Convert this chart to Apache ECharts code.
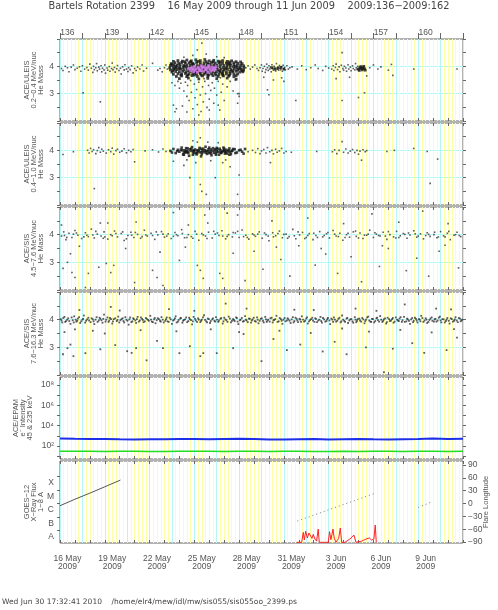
<!DOCTYPE html>
<html><head><meta charset="utf-8">
<script src="https://cdn.jsdelivr.net/npm/echarts@6/dist/echarts.min.js"></script>
<style>html,body{margin:0;padding:0;background:#fff}#c{width:498px;height:610px}</style>
</head><body><div id="c"></div>
<script>
// ---------- tick labels ----------
const topLabelDays = [136, 139, 142, 145, 148, 151, 154, 157, 160];
const topTickLabels = ['136', '139', '142', '145', '148', '151', '154', '157', '160'];
const dateLabels = ['16 May\n2009', '19 May\n2009', '22 May\n2009', '25 May\n2009', '28 May\n2009',
  '31 May\n2009', '3 Jun\n2009', '6 Jun\n2009', '9 Jun\n2009'];
const massLabelValues = [3, 4];
const massTickLabels = ['3', '4'];
const epamLabelExps = [2, 4, 6, 8];
const epamTickLabels = ['10\u00b2', '10\u2074', '10\u2076', '10\u2078'];
const goesLabelExps = [-8, -7, -6, -5, -4];
const goesClassLabels = ['A', 'B', 'C', 'M', 'X'];
const lonTickValues = [-90, -60, -30, 0, 30, 60, 90];
const lonTickLabels = ['\u221290', '\u221260', '\u221230', '0', '30', '60', '90'];

// ---------- data: [day of year, He mass] ----------
const uleisLowSparse = `136.1 3.92, 136.2 3.85, 136.35 4.0, 136.5 3.95, 136.6 3.8, 136.75 3.97, 136.9 4.05, 137.0 3.88,
137.15 3.93, 137.3 3.98, 137.4 3.82, 137.5 4.02, 137.55 3.03, 137.65 3.9, 137.8 3.96, 137.9 3.86, 138.0 4.08, 138.1 3.93,
138.2 3.78, 138.25 4.0, 138.3 3.88, 138.4 3.95, 138.45 4.1, 138.5 3.84, 138.6 3.97, 138.65 3.9, 138.7 2.7, 138.75 4.02,
138.8 3.8, 138.85 3.93, 138.95 3.87, 139.0 4.05, 139.05 3.75, 139.15 3.94, 139.2 3.86, 139.3 3.99, 139.35 3.82, 139.45 3.92,
139.5 4.12, 139.55 3.88, 139.65 3.96, 139.7 3.79, 139.8 3.91, 139.85 4.03, 139.95 3.85, 140.05 3.93, 140.1 3.72, 140.2 3.98,
140.3 3.87, 140.35 4.06, 140.45 3.9, 140.55 3.81, 140.6 3.95, 140.7 3.88, 140.8 4.02, 140.9 3.76, 141.0 3.92, 141.1 3.85,
141.2 3.97, 141.35 3.9, 141.5 4.05, 141.6 3.83, 141.8 3.93, 142.2 4.11, 142.55 3.86, 142.7 3.92, 142.85 3.8, 143.0 3.95,
143.1 4.05, 143.2 3.9,
143.5 3.4, 143.7 3.3, 143.9 3.45, 144.0 3.2, 144.1 3.38, 144.2 2.55, 144.3 3.1, 144.4 3.42, 144.5 2.9, 144.55 3.3,
144.65 2.75, 144.75 3.48, 144.8 3.05, 144.9 2.45, 145.0 3.35, 145.05 2.85, 145.15 3.15, 145.2 2.6, 145.3 3.42, 145.4 2.95,
145.45 2.35, 145.55 3.25, 145.6 2.7, 145.7 3.45, 145.75 3.0, 145.85 2.5, 145.95 3.3, 146.0 2.8, 146.1 3.12, 146.2 3.4,
146.3 2.65, 146.35 3.2, 146.5 2.95, 146.6 3.45, 146.7 2.4, 146.8 3.05, 146.9 3.35, 147.0 2.75, 147.2 3.25, 147.4 3.45,
147.6 3.1, 147.9 3.0, 148.0 2.9, 143.8 2.45, 144.45 3.6, 145.65 3.55, 146.75 3.58, 147.75 3.5, 143.6 2.58, 143.7 2.34,
144.5 2.33, 145.3 2.22, 146.0 2.4, 146.6 2.58, 147.9 2.65, 148.0 3.0,
145.5 4.85, 145.2 4.6, 144.9 4.4, 145.8 4.45, 146.5 4.35, 144.3 4.33, 147.0 4.32,
148.45 3.95, 148.6 4.02, 148.75 3.9, 148.9 3.97, 149.05 4.05, 149.2 3.92, 149.3 3.85,
149.4 3.95, 149.5 4.05, 149.55 3.82, 149.6 3.92, 149.7 4.0, 149.75 3.78, 149.8 3.88, 149.85 4.08, 149.9 3.95, 149.95 3.85,
150.0 4.02, 150.05 3.9, 150.1 3.97, 150.15 3.8, 150.2 4.06, 150.25 3.92, 150.3 3.86, 150.35 4.0, 150.4 3.94, 150.45 3.83,
150.5 4.1, 150.55 3.9, 150.6 3.97, 150.65 3.86, 150.7 4.03, 150.75 3.93, 150.8 3.88, 150.85 3.99, 150.9 3.82, 150.95 4.04,
151.0 3.91, 151.05 3.96, 151.1 3.87, 151.2 4.02, 151.3 3.9, 151.4 3.95, 149.9 3.14, 150.0 2.96, 150.3 3.5, 149.65 3.6,
150.85 3.58, 151.0 3.45,
151.55 3.98, 151.8 2.75, 151.9 3.9, 152.2 4.02, 152.5 3.88, 152.8 3.95, 153.1 4.05, 153.3 3.92, 153.6 3.85, 153.8 4.0, 154.0 3.94,
154.2 3.9, 154.3 4.02, 154.35 3.85, 154.45 3.96, 154.5 4.08, 154.6 3.88, 154.7 3.98, 154.75 3.8, 154.85 4.04, 154.9 4.5,
154.95 3.92, 155.0 3.86, 155.05 4.0, 155.15 3.94, 155.2 3.82, 155.3 4.06, 155.35 3.9, 155.45 3.97, 155.5 3.84, 155.6 4.02,
155.65 3.92, 155.75 3.87, 155.8 4.1, 155.85 3.95, 155.9 3.89, 155.95 4.0, 154.9 2.75, 156.0 2.86, 156.4 3.03, 155.4 3.6,
154.5 3.55, 156.55 3.65,
156.75 3.95, 157.0 4.05, 157.3 3.9, 157.5 3.98, 158.0 3.86, 158.2 4.07, 158.3 3.67, 159.7 3.9, 162.6 3.9`;

const uleisLowCore = `143.6 4.18, 143.9 4.21, 144.2 4.19, 144.5 4.23, 144.8 4.2, 145.1 4.24, 145.4 4.21, 145.7 4.25, 146.0 4.2,
146.3 4.22, 146.6 4.19, 146.9 4.21, 147.2 4.18, 147.5 4.2, 147.8 4.17, 148.1 4.16,
143.45 4.1, 143.7 4.13, 143.95 4.11, 144.15 4.14, 144.4 4.12, 144.65 4.13, 144.9 4.11, 145.15 4.14, 145.4 4.12, 145.65 4.13,
145.9 4.1, 146.15 4.14, 146.4 4.12, 146.65 4.13, 146.9 4.11, 147.15 4.12, 147.4 4.1, 147.65 4.13, 147.9 4.11, 148.2 4.1,
143.4 4.03, 143.62 4.05, 143.85 4.04, 144.05 4.06, 144.28 4.03, 144.5 4.05, 144.72 4.04, 144.95 4.06, 145.18 4.03, 145.4 4.05,
145.62 4.04, 145.85 4.06, 146.08 4.03, 146.3 4.05, 146.52 4.04, 146.75 4.06, 146.98 4.03, 147.2 4.05, 147.42 4.04, 147.65 4.06,
147.88 4.03, 148.1 4.05, 148.3 4.02,
143.35 3.95, 143.58 3.97, 143.8 3.96, 144.02 3.98, 144.25 3.95, 144.48 3.97, 144.7 3.96, 144.92 3.98, 145.15 3.95, 145.38 3.97,
145.6 3.96, 145.82 3.98, 146.05 3.95, 146.28 3.97, 146.5 3.96, 146.72 3.98, 146.95 3.95, 147.18 3.97, 147.4 3.96, 147.62 3.98,
147.85 3.95, 148.08 3.97, 148.32 3.95,
143.4 3.87, 143.62 3.89, 143.85 3.88, 144.08 3.9, 144.3 3.87, 144.52 3.89, 144.75 3.88, 144.98 3.9, 145.2 3.87, 145.42 3.89,
145.65 3.88, 145.88 3.9, 146.1 3.87, 146.32 3.89, 146.55 3.88, 146.78 3.9, 147.0 3.87, 147.22 3.89, 147.45 3.88, 147.68 3.9,
147.9 3.87, 148.12 3.89, 148.3 3.86,
143.5 3.79, 143.75 3.81, 144.0 3.8, 144.22 3.82, 144.45 3.79, 144.68 3.81, 144.9 3.8, 145.12 3.82, 145.35 3.79, 145.58 3.81,
145.8 3.8, 146.02 3.82, 146.25 3.79, 146.48 3.81, 146.7 3.8, 146.92 3.82, 147.15 3.79, 147.38 3.81, 147.6 3.8, 147.82 3.82,
148.05 3.79, 148.25 3.8,
143.6 3.71, 143.9 3.73, 144.15 3.72, 144.4 3.74, 144.65 3.71, 144.9 3.73, 145.15 3.72, 145.4 3.74, 145.65 3.71, 145.9 3.73,
146.15 3.72, 146.4 3.74, 146.65 3.71, 146.9 3.73, 147.15 3.72, 147.4 3.74, 147.65 3.71, 147.9 3.72,
143.8 3.63, 144.15 3.65, 144.5 3.64, 144.85 3.66, 145.2 3.63, 145.55 3.65, 145.9 3.64, 146.25 3.66, 146.6 3.63, 146.95 3.65,
147.3 3.64, 147.65 3.62, 144.0 3.55, 144.6 3.57, 145.3 3.54, 145.9 3.56, 146.5 3.55, 147.2 3.57, 147.8 3.53,
143.5 4.07, 143.75 4.0, 144.0 3.92, 144.35 4.0, 144.6 3.85, 144.85 4.08, 145.05 3.76, 145.3 4.0, 145.55 3.92, 145.75 3.76,
146.0 4.08, 146.2 3.92, 146.45 4.0, 146.7 3.84, 146.85 3.76, 147.1 3.92, 147.3 4.08, 147.55 3.84, 147.75 4.0, 148.0 3.92,
148.2 3.84, 143.55 3.84, 143.7 3.92, 144.1 3.68, 144.55 3.68, 145.0 3.68, 145.45 3.68, 145.95 3.68, 146.45 3.68, 146.9 3.68,
147.35 3.68, 147.8 3.66, 144.35 4.17, 144.75 4.17, 145.25 4.18, 145.8 4.17, 146.25 4.17, 146.75 4.17, 147.35 4.16,
150.2 3.95, 150.4 3.9, 150.6 3.93, 150.8 3.96, 151.0 3.9,
156.0 3.9, 156.1 3.95, 156.2 3.92, 156.3 3.95, 156.4 3.91, 156.05 3.85, 156.15 3.99, 156.25 3.87, 156.35 4.0, 156.45 3.86`;

const uleisLowPink = `144.6 3.9, 144.75 3.85, 144.85 3.95, 144.95 3.8, 145.0 4.0, 145.1 3.9, 145.2 3.78, 145.25 3.97, 145.35 3.86,
145.45 4.02, 145.5 3.92, 145.6 3.82, 145.65 3.98, 145.75 3.88, 145.85 3.95, 145.9 3.78, 145.95 4.03, 146.05 3.9, 146.1 3.85,
146.2 3.96, 146.3 3.92, 146.4 3.88, 146.45 3.99, 144.7 3.93, 145.05 3.86, 145.4 3.84, 145.55 3.97, 145.8 3.91, 146.0 3.98,
146.25 3.86, 144.9 3.9, 145.3 3.92, 146.35 3.94`;

const uleisHighSparse = `136.2 3.85, 136.9 3.95, 137.85 4.0, 137.95 3.9, 138.05 4.07, 138.15 3.96, 138.25 4.02, 138.3 2.6, 138.4 3.88,
138.5 3.99, 138.6 4.1, 138.7 3.93, 138.8 4.04, 138.9 3.97, 139.1 3.9, 139.25 4.02, 139.4 3.95, 139.5 4.08, 139.6 3.86,
139.75 3.99, 139.85 4.04, 140.0 3.93, 140.15 3.97, 140.3 4.06, 140.45 3.91, 140.6 4.0, 140.75 3.95, 140.9 4.03, 141.0 3.58,
141.7 3.98, 142.2 4.02, 142.6 3.94, 142.9 4.05, 143.1 3.96,
144.7 3.0, 145.4 2.75, 145.8 2.39, 145.5 2.5, 147.9 2.39, 148.0 3.1, 145.4 4.46, 144.9 4.35, 145.9 4.3, 146.4 3.0, 143.6 3.6,
144.3 3.45, 146.9 3.55, 147.4 3.4, 145.1 3.55, 146.1 3.62, 145.2 4.3, 146.6 4.28, 144.5 3.65, 147.1 3.65,
148.6 3.95, 148.9 4.0, 149.1 3.92, 149.25 4.06, 149.4 3.88, 149.5 3.98, 149.65 4.03, 149.8 3.9, 149.9 4.1, 150.05 3.95,
150.1 3.55, 150.2 4.0, 150.3 3.87, 150.45 4.04, 150.55 3.93, 150.7 3.98, 150.85 4.07, 151.0 3.9, 151.15 3.96, 151.5 3.93,
153.2 3.96, 154.25 3.95, 154.4 4.02, 154.55 3.88, 154.7 4.0, 154.9 4.32, 155.0 3.93, 155.15 4.05, 155.3 3.9, 155.45 3.97,
155.6 4.03, 155.75 3.92, 155.9 4.0, 156.0 3.86, 156.1 3.97, 156.2 3.64, 156.3 4.02, 156.45 3.95, 156.55 3.99, 157.9 3.96,
158.4 4.0, 159.7 4.07, 160.6 3.96, 161.3 3.68, 160.8 2.79`;

const uleisHighCore = `143.4 3.98, 143.6 4.05, 143.75 3.9, 143.9 4.02, 144.0 3.95, 144.15 4.1, 144.25 3.85, 144.35 4.0, 144.45 3.92,
144.55 4.07, 144.65 3.8, 144.75 3.98, 144.85 4.12, 144.95 3.9, 145.05 4.03, 145.15 3.85, 145.25 3.96, 145.35 4.09, 145.45 3.78,
145.55 4.0, 145.65 3.93, 145.75 4.13, 145.85 3.87, 145.95 4.04, 146.05 3.95, 146.15 3.82, 146.25 4.08, 146.35 3.99, 146.45 3.9,
146.55 4.05, 146.65 3.84, 146.75 4.0, 146.85 3.94, 146.95 4.1, 147.05 3.88, 147.15 4.02, 147.25 3.96, 147.35 4.07, 147.45 3.86,
147.55 3.99, 147.7 4.04, 147.85 3.92, 148.0 4.0, 148.2 3.95, 148.4 4.05,
143.5 3.92, 143.85 3.97, 144.1 4.02, 144.3 3.92, 144.5 3.98, 144.7 4.04, 144.9 3.96, 145.1 3.9, 145.3 4.01, 145.5 3.94,
145.7 4.0, 145.9 3.97, 146.1 4.03, 146.3 3.91, 146.5 3.97, 146.7 4.06, 146.9 3.98, 147.1 3.93, 147.3 4.0, 147.5 3.97,
147.75 3.9, 148.1 4.02, 148.3 3.88,
144.2 4.0, 144.4 3.95, 144.6 3.9, 144.8 4.06, 145.0 3.97, 145.2 4.0, 145.4 3.93, 145.6 4.06, 145.8 3.98, 146.0 3.9,
146.2 3.99, 146.4 4.04, 146.6 3.95, 146.8 3.9, 147.0 4.0, 147.2 3.88, 147.4 3.94, 147.6 4.05,
144.3 3.84, 144.55 3.95, 144.9 3.84, 145.2 3.9, 145.5 3.86, 145.8 3.92, 146.1 3.9, 146.45 3.84, 146.75 3.92, 147.05 3.96,
147.35 3.84, 144.45 4.08, 144.95 4.0, 145.45 4.06, 146.0 4.1, 146.5 4.09, 147.0 4.06`;

const sisLowPts = `136.1 3.95, 136.25 4.1, 136.4 3.82, 136.6 4.05, 136.8 3.9, 137.0 4.15, 137.2 3.98, 137.45 3.86, 137.7 4.07,
137.9 3.93, 138.1 4.2, 138.3 3.88, 138.5 4.02, 138.75 3.95, 138.95 4.1, 139.2 3.84, 139.4 4.0, 139.65 4.13, 139.85 3.92,
140.1 4.04, 140.3 3.79, 140.55 3.97, 140.75 4.09, 140.95 3.9, 141.2 4.01, 141.4 3.87, 141.65 4.16, 141.85 3.95, 142.1 4.05,
142.35 3.83, 142.55 3.99, 142.8 4.11, 143.0 3.91, 143.25 4.03, 143.45 3.86, 143.7 4.08, 143.9 3.96, 144.15 4.18, 144.35 3.89,
144.6 4.0, 144.8 3.93, 145.05 4.12, 145.3 3.8, 145.5 4.04, 145.75 3.95, 145.95 4.09, 146.2 3.88, 146.4 4.02, 146.65 3.97,
146.85 4.14, 147.1 3.85, 147.3 4.0, 147.55 3.92, 147.75 4.06, 148.0 3.9, 148.2 4.17, 148.45 3.98, 148.65 3.84, 148.9 4.03,
149.1 3.94, 149.35 4.1, 149.55 3.87, 149.8 4.0, 150.0 3.78, 150.25 4.07, 150.45 3.96, 150.7 4.13, 150.9 3.89, 151.15 4.02,
151.35 3.93, 151.6 4.19, 151.8 3.85, 152.05 3.99, 152.25 4.08, 152.5 3.9, 152.7 4.04, 152.95 3.82, 153.15 3.97, 153.4 4.11,
153.6 3.92, 153.85 4.03, 154.05 3.88, 154.3 4.15, 154.5 3.95, 154.75 4.05, 154.95 3.8, 155.2 4.0, 155.4 3.91, 155.65 4.1,
155.85 3.94, 156.1 4.06, 156.3 3.86, 156.55 3.98, 156.75 4.16, 157.0 3.9, 157.2 4.02, 157.45 3.95, 157.65 4.09, 157.9 3.83,
158.1 4.0, 158.35 3.92, 158.55 4.12, 158.8 3.96, 159.0 4.04, 159.25 3.87, 159.45 3.99, 159.7 4.14, 159.9 3.91, 160.15 4.03,
160.35 3.85, 160.6 4.07, 160.8 3.94, 161.05 4.0, 161.25 3.89, 161.5 4.11, 161.7 3.96, 161.95 4.05, 162.15 3.82, 162.4 3.98,
162.6 4.09, 162.85 3.93,
136.3 3.97, 136.9 4.02, 137.6 3.92, 138.2 3.99, 138.9 3.87, 139.5 3.96, 140.2 4.1, 140.8 3.98, 141.5 3.93, 142.2 3.97,
142.9 4.02, 143.6 3.94, 144.2 4.04, 144.9 3.87, 145.6 3.99, 146.3 4.12, 146.9 3.95, 147.6 4.08, 148.3 3.93, 149.0 3.99,
149.7 4.06, 150.3 3.92, 151.0 4.01, 151.7 3.96, 152.4 3.86, 153.0 4.05, 153.7 3.97, 154.4 4.02, 155.1 3.9, 155.8 4.13,
156.4 3.98, 157.1 4.07, 157.8 3.95, 158.5 3.88, 159.1 4.01, 159.8 4.03, 160.5 3.97, 161.1 4.09, 161.8 3.92, 162.5 4.0,
136.45 3.9, 137.1 4.06, 137.8 3.98, 138.4 4.12, 139.0 3.92, 139.75 4.04, 140.45 3.85, 141.05 4.08, 141.75 3.99, 142.45 4.1,
143.15 3.95, 143.8 4.0, 144.5 3.9, 145.15 4.02, 145.85 3.86, 146.55 4.06, 147.2 3.94, 147.9 4.12, 148.55 3.9, 149.25 4.02,
149.95 3.95, 150.6 4.04, 151.25 3.87, 151.95 4.1, 152.6 3.97, 153.25 3.9, 153.95 4.08, 154.65 3.93, 155.3 4.05, 156.0 3.88,
156.65 4.02, 157.35 3.97, 158.0 4.11, 158.7 3.9, 159.35 4.06, 160.0 3.95, 160.7 4.01, 161.35 3.92, 162.05 4.12, 162.75 3.97,
136.1 4.35, 136.2 2.78, 136.5 3.0, 136.7 3.31, 136.8 2.63, 137.0 2.45, 137.7 2.09, 137.9 2.6, 138.6 2.82, 138.7 4.42,
139.1 2.96, 139.4 2.63, 139.6 2.89, 139.2 4.42, 141.1 4.46, 141.0 2.27, 142.2 2.71, 142.5 2.45, 142.9 2.16, 142.7 3.37,
143.6 4.8, 144.0 3.07, 144.6 4.35, 145.2 2.89, 145.4 2.71, 145.6 2.42, 145.7 4.71, 145.9 4.42, 146.7 2.6, 146.9 2.42,
147.2 4.78, 147.6 3.33, 147.9 4.71, 148.4 2.34, 149.0 3.4, 149.6 2.75, 150.2 4.5, 150.8 3.1, 151.4 2.5, 152.0 3.6,
152.6 4.6, 153.1 2.9, 153.8 3.3, 154.6 2.6, 155.0 4.4, 155.5 3.2, 156.2 2.3, 156.9 4.75, 157.4 2.85, 158.0 3.5,
158.7 4.45, 159.2 2.7, 159.9 3.15, 160.3 4.85, 160.7 2.5, 161.4 3.4, 162.0 4.4, 162.7 2.8, 157.6 3.6, 150.5 3.55,
161.8 3.62, 153.5 3.5, 144.4 3.55, 140.4 3.5, 137.3 3.58`;

const sisHighPts = `136.05 4.02, 136.15 3.9, 136.3 4.1, 136.4 3.95, 136.55 4.05, 136.7 3.85, 136.85 3.98, 136.95 4.12,
137.1 3.93, 137.2 4.04, 137.35 3.88, 137.5 4.0, 137.6 4.15, 137.75 3.96, 137.9 4.07,
138.05 3.91, 138.2 4.01, 138.3 3.84, 138.45 4.09, 138.6 3.97, 138.7 4.03, 138.85 3.89, 138.95 4.18,
139.1 4.0, 139.25 3.92, 139.35 4.06, 139.5 3.86, 139.6 4.02, 139.8 3.95, 139.9 4.11,
140.05 3.98, 140.2 4.05, 140.3 3.9, 140.45 4.0, 140.6 3.82, 140.7 4.08, 140.85 3.94, 140.95 4.02,
141.1 3.88, 141.2 4.1, 141.35 3.97, 141.5 4.03, 141.6 3.91, 141.75 4.06, 141.9 3.99,
142.05 4.14, 142.15 3.93, 142.3 4.01, 142.4 3.87, 142.55 4.05, 142.7 3.96, 142.8 4.09, 142.95 3.9,
143.1 4.02, 143.2 3.94, 143.35 4.07, 143.5 3.85, 143.65 4.0, 143.75 4.12, 143.9 3.93,
144.05 4.04, 144.2 3.89, 144.3 3.99, 144.45 4.08, 144.6 3.95, 144.7 4.02, 144.85 3.83, 144.95 4.1,
145.1 3.97, 145.25 4.05, 145.4 3.91, 145.5 4.0, 145.65 4.16, 145.8 3.94, 145.9 4.04,
146.05 3.88, 146.2 4.01, 146.35 3.96, 146.45 4.09, 146.6 3.92, 146.75 4.03, 146.9 3.86,
147.0 4.07, 147.15 3.98, 147.3 4.11, 147.45 3.9, 147.6 4.02, 147.7 3.95, 147.85 4.06, 147.95 3.84,
148.1 4.0, 148.25 3.93, 148.4 4.13, 148.5 3.97, 148.65 4.04, 148.8 3.89, 148.9 4.01,
149.05 3.95, 149.2 4.08, 149.3 3.87, 149.45 4.03, 149.6 3.96, 149.75 4.1, 149.85 3.92, 149.95 4.0,
150.1 4.05, 150.25 3.9, 150.35 3.99, 150.5 4.14, 150.65 3.94, 150.8 4.02, 150.9 3.85,
151.05 4.06, 151.2 3.97, 151.3 4.01, 151.45 3.88, 151.6 4.09, 151.7 3.95, 151.85 4.03, 151.95 3.91,
152.1 4.0, 152.2 4.12, 152.35 3.93, 152.5 4.04, 152.6 3.86, 152.75 3.98, 152.9 4.07,
153.05 3.92, 153.15 4.03, 153.3 3.97, 153.45 4.1, 153.55 3.89, 153.7 4.01, 153.85 3.95, 153.95 4.06,
154.1 3.84, 154.25 4.0, 154.35 4.08, 154.5 3.93, 154.65 4.03, 154.8 3.9, 154.9 4.15,
155.05 3.96, 155.2 4.04, 155.3 3.88, 155.45 4.01, 155.6 3.94, 155.75 4.09, 155.85 3.91, 155.95 4.02,
156.1 3.97, 156.25 4.06, 156.4 3.87, 156.5 4.0, 156.65 4.11, 156.8 3.93, 156.9 4.03,
157.05 3.9, 157.2 4.05, 157.3 3.98, 157.45 4.13, 157.6 3.92, 157.7 4.01, 157.85 3.86, 157.95 4.07,
158.1 3.95, 158.25 4.02, 158.35 3.89, 158.5 4.08, 158.65 3.97, 158.75 4.04, 158.9 3.92,
159.05 4.1, 159.2 3.94, 159.3 4.01, 159.45 3.85, 159.6 4.06, 159.7 3.96, 159.85 4.03, 159.95 3.9,
160.1 4.0, 160.2 4.14, 160.35 3.92, 160.5 4.05, 160.6 3.88, 160.75 3.99, 160.9 4.08,
161.05 3.93, 161.15 4.03, 161.3 3.97, 161.45 4.11, 161.55 3.9, 161.7 4.01, 161.85 3.95, 161.95 4.06,
162.1 3.86, 162.25 4.02, 162.4 3.96, 162.5 4.09, 162.65 3.91, 162.8 4.04, 162.9 3.98,
136.1 3.97, 136.22 4.06, 136.35 3.92, 136.48 4.0, 136.62 3.95, 136.78 4.08, 136.92 3.9, 137.05 4.0, 137.15 3.96, 137.28 4.09,
137.42 3.94, 137.55 4.03, 137.68 3.89, 137.82 4.01, 137.95 3.97, 138.12 4.05, 138.25 3.94, 138.38 4.0, 138.52 3.92, 138.65 4.07,
138.78 3.98, 138.9 4.03, 139.05 3.93, 139.18 4.08, 139.3 3.97, 139.42 4.02, 139.55 3.94, 139.7 4.05, 139.85 3.99, 139.97 3.9,
140.12 4.02, 140.25 3.95, 140.38 4.09, 140.52 3.96, 140.65 4.01, 140.78 3.91, 140.9 4.05, 141.05 3.97, 141.15 4.02, 141.28 3.93,
141.42 4.08, 141.55 3.99, 141.68 3.94, 141.82 4.03, 141.95 3.96, 142.1 4.0, 142.22 3.91, 142.35 4.06, 142.48 3.98, 142.62 4.02,
142.75 3.93, 142.88 4.0, 143.05 3.96, 143.15 4.08, 143.28 3.92, 143.42 4.01, 143.58 3.97, 143.7 4.05, 143.82 3.9, 143.95 3.99,
144.1 4.06, 144.25 3.96, 144.38 4.01, 144.52 3.91, 144.65 4.07, 144.78 3.98, 144.9 3.94, 145.05 4.03, 145.18 3.92, 145.3 4.0,
145.45 3.96, 145.58 4.08, 145.72 3.99, 145.85 3.9, 145.97 4.02, 146.1 3.95, 146.25 4.05, 146.4 3.93, 146.52 4.0, 146.65 3.97,
146.8 4.06, 146.95 3.94, 147.08 4.01, 147.22 3.92, 147.38 4.04, 147.52 3.96, 147.65 3.99, 147.8 4.08, 147.9 3.93, 148.05 3.98,
148.18 4.06, 148.32 3.95, 148.45 4.0, 148.58 3.91, 148.72 4.03, 148.85 3.97, 148.98 4.07, 149.12 3.93, 149.25 4.0, 149.38 3.96,
149.52 4.05, 149.65 3.9, 149.8 4.01, 149.9 3.97, 150.05 3.93, 150.18 4.07, 150.3 3.98, 150.42 4.02, 150.58 3.92, 150.72 4.06,
150.85 3.96, 150.97 4.0, 151.1 3.94, 151.25 4.05, 151.38 3.96, 151.52 4.01, 151.65 3.9, 151.78 4.07, 151.9 3.97, 152.05 4.03,
152.15 3.92, 152.28 4.0, 152.42 3.96, 152.55 4.08, 152.68 3.94, 152.82 4.02, 152.95 3.97, 153.1 4.05, 153.22 3.91, 153.38 4.0,
153.5 3.95, 153.62 4.06, 153.78 3.93, 153.9 4.01, 154.05 3.97, 154.18 4.04, 154.3 3.92, 154.42 4.0, 154.58 3.96, 154.72 4.07,
154.85 3.94, 154.97 4.0, 155.1 3.92, 155.25 4.06, 155.38 3.97, 155.52 4.02, 155.65 3.89, 155.8 4.0, 155.9 3.96, 156.05 4.04,
156.18 3.93, 156.32 4.01, 156.45 3.95, 156.58 4.08, 156.72 3.97, 156.85 3.92, 156.97 4.02, 157.12 3.95, 157.25 4.07, 157.38 3.93,
157.52 4.0, 157.65 3.96, 157.78 4.05, 157.9 3.91, 158.05 4.02, 158.18 3.97, 158.3 4.06, 158.42 3.93, 158.58 4.0, 158.7 3.95,
158.82 4.09, 158.95 3.98, 159.1 3.92, 159.25 4.04, 159.38 3.96, 159.52 4.01, 159.65 3.91, 159.78 4.07, 159.9 3.97, 160.05 4.02,
160.15 3.94, 160.28 4.06, 160.42 3.97, 160.55 4.0, 160.68 3.92, 160.82 4.04, 160.95 3.96, 161.1 4.01, 161.22 3.93, 161.38 4.07,
161.5 3.97, 161.62 4.02, 161.78 3.9, 161.9 4.0, 162.05 3.96, 162.18 4.05, 162.32 3.93, 162.45 4.01, 162.58 3.97, 162.72 4.06,
162.85 3.94, 162.95 4.0,
136.2 2.75, 136.5 2.97, 136.7 3.1, 136.9 2.68, 137.7 2.79, 138.7 2.93, 139.4 4.46, 139.7 3.08, 140.5 2.86, 140.8 2.8,
141.1 2.97, 141.8 2.53, 142.5 3.23, 142.9 2.97, 144.0 2.79, 144.7 3.04, 145.4 2.68, 145.6 2.79, 146.5 2.79, 147.1 4.58,
147.6 2.97, 148.3 3.48, 148.5 4.4, 149.5 2.5, 150.3 3.3, 151.2 2.9, 152.1 3.1, 153.0 4.35, 153.6 2.85, 154.4 3.2,
155.2 2.75, 155.8 4.4, 156.5 3.0, 157.7 2.1, 158.3 2.95, 159.1 4.55, 159.6 3.15, 160.4 2.8, 161.2 4.4, 161.9 2.9,
162.6 3.35, 137.3 4.35, 140.0 4.33, 143.3 4.38, 145.0 4.32, 151.7 4.36, 157.2 4.32, 162.2 4.37,
136.3 3.55, 137.0 3.65, 138.2 3.6, 139.0 3.5, 141.4 3.62, 143.8 3.58, 146.1 3.65, 148.0 3.55, 150.7 3.6, 152.8 3.52,
154.9 3.68, 156.7 3.57, 158.8 3.63, 160.9 3.54, 162.4 3.66`;

// ACE/EPAM electron intensity, log10, one value per day
const epamDays = [136, 137, 138, 139, 140, 141, 142, 143, 144, 145, 146, 147, 148, 149, 150, 151, 152, 153, 154, 155, 156, 157, 158, 159, 160, 161, 162, 163];
const epam45 = [2.74, 2.71, 2.7, 2.69, 2.66, 2.64, 2.67, 2.66, 2.69, 2.68, 2.67, 2.7, 2.71, 2.68, 2.65, 2.64, 2.66, 2.68, 2.65, 2.67, 2.69, 2.66, 2.64, 2.66, 2.68, 2.73, 2.7, 2.71];
const epam235 = [1.49, 1.48, 1.48, 1.47, 1.48, 1.48, 1.47, 1.47, 1.48, 1.49, 1.48, 1.47, 1.48, 1.48, 1.47, 1.48, 1.48, 1.47, 1.47, 1.48, 1.46, 1.48, 1.48, 1.47, 1.48, 1.48, 1.47, 1.48];

// GOES-12 X-ray flux, log10 W/m2
const goesLongDays = [136, 137, 138, 139, 140.05];
const goesLongFlux = [-5.68, -5.2, -4.75, -4.28, -3.78];
const goesRedDays = [151.85, 152.19, 152.3, 152.37, 152.46, 152.57, 152.68, 152.79, 152.88, 152.97, 153.08, 153.19, 153.3, 153.37,
  153.97, 154.06, 154.15, 154.29, 154.37, 154.49, 154.67, 154.78, 154.87, 155.09, 155.42, 155.69, 155.83, 156.21, 156.5, 156.72,
  156.88, 157.03, 157.12, 157.19];
const goesRedFlux = [-8.39, -8.39, -7.65, -8.22, -7.56, -8.07, -7.7, -7.56, -8.1, -7.8, -8.15, -8.3, -7.41, -8.39,
  -8.39, -7.6, -8.2, -7.41, -8.07, -8.39, -8.1, -7.33, -8.39, -8.39, -8.15, -7.85, -8.39, -8.3, -8.15, -8.07,
  -8.22, -8.15, -7.11, -8.39];
const flareLonDaysA = [151.9, 157.1];
const flareLonA = [-41, 24];
const flareLonDaysB = [160.0, 161.0];
const flareLonB = [-9, 5];

// ---------- build ----------
function pts(s) { return s.trim().split(/\s*,\s*/).map(p => p.trim().split(/\s+/).map(Number)); }
function zip(a, b) { return a.map((v, i) => [v, b[i]]); }

const FONT = 'Liberation Sans';
const WFONT = 'DejaVu Sans';
const TXT = '#555';
const FRAME = '#666';
const grids = [
  { top: 39, height: 82 }, { top: 123, height: 82 }, { top: 207, height: 83 },
  { top: 292, height: 83 }, { top: 377, height: 82 }, { top: 461, height: 82 }
].map(g => Object.assign({ left: 60, right: 35, show: true, borderColor: FRAME, borderWidth: 1, backgroundColor: 'transparent' }, g));

const dayTicks = []; for (let d = 136; d <= 163; d++) dayTicks.push(d);
const topTicks = []; for (let d = 136; d <= 163; d += 1.5) topTicks.push(d);

const xAxis = [];
grids.forEach((g, i) => {
  xAxis.push({ type: 'value', gridIndex: i, min: 136, max: 163, interval: 0.25,
    axisLine: { show: false }, axisTick: { show: false }, axisLabel: { show: false },
    splitLine: { show: true, showMinLine: true, showMaxLine: true,
      lineStyle: { width: 1, color: ['#b4f7f7', '#ffffa6', '#ffffa6', '#ffffa6', '#ffffa6', '#ffffa6'] } } });
  xAxis.push({ type: 'value', gridIndex: i, min: 136, max: 163, position: 'bottom',
    axisLine: { show: false }, splitLine: { show: false },
    axisTick: { show: true, inside: true, length: 3, customValues: dayTicks, lineStyle: { color: FRAME } },
    axisLabel: i === 5 ? { show: true, customValues: topLabelDays.map(d => d + 0.5), margin: 12,
      fontSize: 8.5, lineHeight: 8, color: TXT, fontFamily: FONT,
      formatter: v => dateLabels[topLabelDays.indexOf(Math.floor(v))] } : { show: false } });
  xAxis.push({ type: 'value', gridIndex: i, min: 136, max: 163, position: 'top',
    axisLine: { show: false }, splitLine: { show: false },
    axisTick: i === 0 ? { show: true, inside: false, length: 6, customValues: topTicks, lineStyle: { color: FRAME } }
      : { show: true, inside: true, length: 3, customValues: dayTicks, lineStyle: { color: FRAME } },
    axisLabel: i === 0 ? { show: true, customValues: topLabelDays.map(d => d + 0.5), margin: 2,
      fontSize: 8.5, color: TXT, fontFamily: FONT,
      formatter: v => topTickLabels[topLabelDays.indexOf(Math.floor(v))] } : { show: false } });
});

const names = ['ACE/ULEIS\n0.2\u22120.4 MeV/nuc\nHe Mass', 'ACE/ULEIS\n0.4\u22121.0 MeV/nuc\nHe Mass',
  'ACE/SIS\n4.5\u22127.6 MeV/nuc\nHe Mass', 'ACE/SIS\n7.6\u221216.3 MeV/nuc\nHe Mass',
  'ACE/EPAM\ne\u207b Intensity\n45 & 235 keV', 'GOES\u221212\nX\u2212Ray Flux\n1\u22128 A'];
const nameStyle = { fontSize: 7.5, lineHeight: 7, color: TXT, fontFamily: FONT };
const yAxis = [];
const none = 'rgba(0,0,0,0)';
for (let i = 0; i < 4; i++) {
  const common = { type: 'value', gridIndex: i, min: 2, max: 5, interval: 0.5 };
  yAxis.push(Object.assign({}, common, { position: 'left', name: names[i], nameLocation: 'middle', nameRotate: 90, nameGap: 16,
    nameMoveOverlap: false, nameTextStyle: nameStyle, axisLine: { show: false },
    axisTick: { show: true, inside: false, length: 3, lineStyle: { color: FRAME } },
    axisLabel: { show: true, margin: 6, fontSize: 8.5, color: TXT, fontFamily: FONT,
      formatter: v => { const k = massLabelValues.indexOf(v); return k >= 0 ? massTickLabels[k] : ''; } },
    splitLine: { show: true, showMinLine: true, showMaxLine: true, lineStyle: { width: 1, color: [none, none, '#b4f7f7', none, '#b4f7f7', none, none] } } }));
  yAxis.push(Object.assign({}, common, { position: 'right', axisLine: { show: false }, axisLabel: { show: false }, splitLine: { show: false },
    axisTick: { show: true, inside: false, length: 3, lineStyle: { color: FRAME } } }));
}
yAxis.push({ type: 'value', gridIndex: 4, min: 0.72, max: 8.79, position: 'left', name: names[4], nameLocation: 'middle',
  nameRotate: 90, nameGap: 27, nameMoveOverlap: false, nameTextStyle: nameStyle, axisLine: { show: false }, splitLine: { show: false },
  axisTick: { show: true, inside: false, length: 3, customValues: [1, 2, 3, 4, 5, 6, 7, 8], lineStyle: { color: FRAME } },
  axisLabel: { show: true, customValues: epamLabelExps, margin: 6, fontSize: 8.5, color: TXT, fontFamily: FONT,
    formatter: v => epamTickLabels[epamLabelExps.indexOf(v)] } });
yAxis.push({ type: 'value', gridIndex: 4, min: 0.72, max: 8.79, position: 'right', axisLine: { show: false },
  splitLine: { show: false }, axisLabel: { show: false },
  axisTick: { show: true, inside: false, length: 3, customValues: [1, 2, 3, 4, 5, 6, 7, 8], lineStyle: { color: FRAME } } });
yAxis.push({ type: 'value', gridIndex: 5, min: -8.44, max: -2.37, position: 'left', name: names[5], nameLocation: 'middle',
  nameRotate: 90, nameGap: 16, nameMoveOverlap: false, nameTextStyle: nameStyle, axisLine: { show: false }, splitLine: { show: false },
  axisTick: { show: true, inside: false, length: 3, customValues: [-7.5, -6.5, -5.5, -4.5, -3.5], lineStyle: { color: FRAME } },
  axisLabel: { show: true, customValues: goesLabelExps, margin: 6, fontSize: 8.5, color: TXT, fontFamily: FONT,
    formatter: v => goesClassLabels[goesLabelExps.indexOf(v)] } });
yAxis.push({ type: 'value', gridIndex: 5, min: -92.3, max: 99.4, position: 'right', name: 'Flare Longitude',
  nameLocation: 'middle', nameRotate: 90, nameGap: 19, nameMoveOverlap: false, nameTextStyle: { fontSize: 7.5, color: TXT, fontFamily: FONT },
  axisLine: { show: false }, splitLine: { show: false },
  axisTick: { show: true, inside: false, length: 3, customValues: lonTickValues, lineStyle: { color: FRAME } },
  axisLabel: { show: true, customValues: lonTickValues, margin: 5, fontSize: 8.5, color: TXT, fontFamily: FONT,
    formatter: v => lonTickLabels[lonTickValues.indexOf(v)] } });

function scat(i, data, size, color) {
  return { type: 'scatter', xAxisIndex: i * 3, yAxisIndex: i * 2, data: data, symbol: 'rect', symbolSize: size,
    itemStyle: { color: color }, silent: true, z: 3 };
}
const DOT = '#333';
const series = [
  scat(0, pts(uleisLowSparse), 1.6, DOT),
  scat(0, pts(uleisLowCore), 2.8, '#151515'),
  scat(0, pts(uleisLowPink), 2.8, '#d77cf0'),
  scat(1, pts(uleisHighSparse), 1.6, DOT),
  scat(1, pts(uleisHighCore), 2.6, '#151515'),
  scat(2, pts(sisLowPts), 1.6, DOT),
  scat(3, pts(sisHighPts), 1.8, DOT),
  { type: 'line', xAxisIndex: 12, yAxisIndex: 8, data: zip(epamDays, epam45), symbol: 'none', lineStyle: { color: '#1c2ee8', width: 2 }, z: 3 },
  { type: 'line', xAxisIndex: 12, yAxisIndex: 8, data: zip(epamDays, epam235), symbol: 'none', lineStyle: { color: '#22dd22', width: 1.5 }, z: 3 },
  { type: 'line', xAxisIndex: 15, yAxisIndex: 10, data: zip(goesLongDays, goesLongFlux), symbol: 'none', lineStyle: { color: '#555', width: 1 }, z: 3 },
  { type: 'line', xAxisIndex: 15, yAxisIndex: 10, data: zip(goesRedDays, goesRedFlux), symbol: 'none', lineStyle: { color: '#f22', width: 1 }, z: 3 },
  { type: 'line', xAxisIndex: 15, yAxisIndex: 11, data: zip(flareLonDaysA, flareLonA), symbol: 'none', lineStyle: { color: '#777', width: 1, type: [1, 3] }, z: 3 },
  { type: 'line', xAxisIndex: 15, yAxisIndex: 11, data: zip(flareLonDaysB, flareLonB), symbol: 'none', lineStyle: { color: '#777', width: 1, type: [1, 3] }, z: 3 }
];

const chart = echarts.init(document.getElementById('c'), null, { renderer: 'canvas' });
chart.setOption({
  animation: false,
  backgroundColor: '#fff',
  textStyle: { fontFamily: FONT },
  grid: grids, xAxis: xAxis, yAxis: yAxis, series: series,
  graphic: [
    { type: 'text', left: 'center', top: 1, style: { text: 'Bartels Rotation 2399    16 May 2009 through 11 Jun 2009    2009:136\u22122009:162',
      fontSize: 9.8, fill: '#444', fontFamily: WFONT } },
    { type: 'text', left: 2, top: 598, style: { text: 'Wed Jun 30 17:32:41 2010    /home/elr4/mew/idl/mw/sis055/sis055oo_2399.ps',
      fontSize: 7.5, fill: '#444', fontFamily: WFONT } }
  ]
});
</script></body></html>
